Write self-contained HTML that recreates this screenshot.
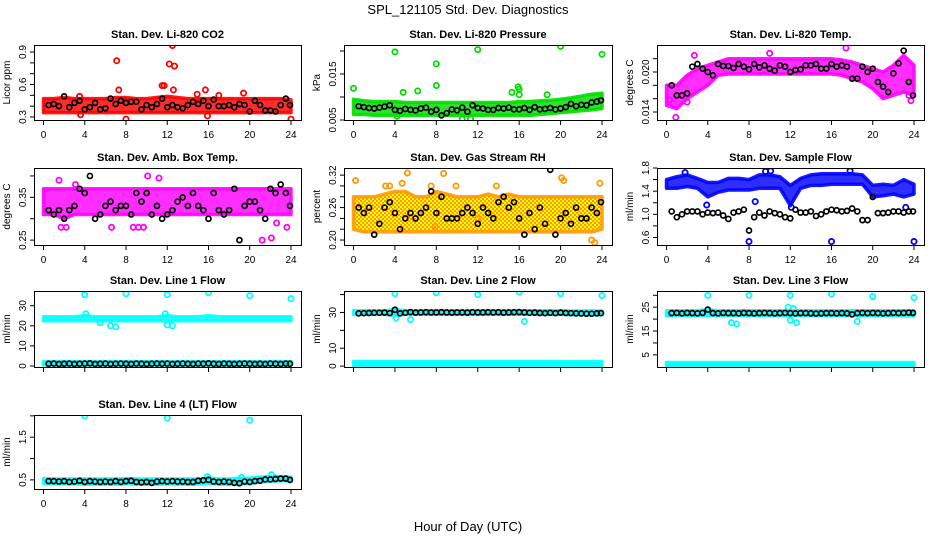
<!DOCTYPE html>
<html><head><meta charset="utf-8"><style>
body{margin:0;background:#fff}
svg{display:block;font-family:"Liberation Sans",sans-serif}
</style></head><body>
<svg id="c" width="936" height="540" xmlns="http://www.w3.org/2000/svg">
<defs>
<pattern id="rhpat" width="4" height="4" patternUnits="userSpaceOnUse"><rect width="4" height="4" fill="#ffff00"/><rect width="2" height="2" fill="#ff9900"/><rect x="2" y="2" width="2" height="2" fill="#ff9900"/></pattern>
</defs>
<text x="468" y="14" text-anchor="middle" font-size="13">SPL_121105  Std. Dev. Diagnostics</text>
<text x="468" y="531" text-anchor="middle" font-size="13">Hour of Day (UTC)</text>
</svg>
<script>
// ---- data ----
const hourTicks=[0,4,8,12,16,20,24];
const blackHours=[0.5,1,1.5,2,2.5,3,3.5,4,4.5,5,5.5,6,6.5,7,7.5,8,8.5,9,9.5,10,10.5,11,11.5,12,12.5,13,13.5,14,14.5,15,15.5,16,16.5,17,17.5,18,18.5,19,19.5,20,20.5,21,21.5,22,22.5,23,23.5,23.9];
const bandHours=[0,1,2,3,4,5,6,7,8,9,10,11,12,13,14,15,16,17,18,19,20,21,22,23,24];

const co2Lo=[.34,.34,.34,.34,.34,.34,.34,.34,.34,.34,.34,.34,.34,.34,.34,.34,.34,.34,.34,.34,.34,.34,.34,.34,.34];
const co2Hi=[.47,.47,.48,.47,.47,.47,.47,.48,.48,.47,.47,.48,.49,.48,.47,.47,.47,.47,.47,.47,.47,.47,.47,.47,.46];
const co2OutX=[7.1,7.3,3.5,11.5,11.7,12.2,12.5,12.7,12.6,15.7,14.9,17,19.4,8,24,15.9,3.6];
const co2OutY=[.82,.55,.49,.59,.59,.79,.96,.77,.55,.55,.51,.5,.52,.28,.28,.31,.32];
const co2Black=[.41,.42,.40,.49,.39,.43,.45,.37,.39,.43,.37,.38,.47,.42,.45,.43,.44,.44,.37,.41,.39,.42,.47,.39,.41,.39,.38,.41,.44,.42,.45,.40,.46,.40,.40,.41,.39,.42,.41,.35,.45,.41,.36,.36,.35,.41,.47,.41];

const presLo=[.0062,.0062,.006,.006,.006,.006,.006,.006,.006,.006,.006,.006,.006,.006,.006,.006,.006,.006,.0062,.0064,.0066,.0068,.007,.0072,.0075];
const presHi=[.0095,.0092,.009,.009,.009,.0088,.0088,.0088,.0088,.0088,.0088,.0088,.0088,.0088,.0088,.0088,.009,.009,.0092,.0093,.0095,.0098,.0102,.0106,.0108];
const presOutX=[4,8,8,12,20,24,0,6.2,4.8,15.9,16,16,15.3,18.7,4.2,10.5,11.3];
const presOutY=[.0198,.0172,.0125,.0203,.021,.0193,.0119,.0113,.011,.0122,.0117,.0105,.011,.0105,.0058,.0052,.0052];
const presBlack=[.008,.0078,.0076,.0075,.0077,.0079,.0082,.0072,.007,.0074,.0072,.0071,.0075,.0077,.0068,.0072,.006,.0065,.0073,.0071,.0077,.0068,.0082,.0076,.0075,.0072,.0072,.0076,.0075,.0077,.0073,.0073,.0076,.0072,.0078,.0073,.0074,.0076,.0073,.0075,.0078,.0085,.008,.0083,.0082,.0088,.009,.0093];

const tempLo=[.015,.0145,.016,.017,.018,.0195,.0197,.0197,.0197,.0197,.0197,.0197,.0197,.0197,.0197,.0197,.0197,.0195,.019,.0185,.0175,.016,.0165,.017,.0165];
const tempHi=[.018,.018,.0195,.0205,.021,.0215,.022,.022,.022,.022,.022,.022,.022,.022,.022,.022,.022,.0218,.0215,.021,.0205,.02,.021,.0225,.021];
const tempOutX=[0.9,2,0.3,17.4,23.5,23.7,10,2.7];
const tempOutY=[.0132,.0155,.0158,.0236,.0165,.0157,.0228,.0225];
const tempBlack=[.018,.0165,.0165,.0168,.0208,.0212,.0205,.02,.0195,.0212,.0209,.0209,.0206,.0212,.0208,.0204,.0212,.0207,.021,.0205,.0202,.021,.0208,.02,.0203,.0204,.021,.021,.0212,.0205,.0205,.0212,.0208,.021,.0208,.019,.019,.0208,.02,.0205,.0185,.0178,.017,.0198,.0213,.0232,.0185,.0165];

const ambLo=[.31,.31,.30,.31,.31,.31,.31,.31,.31,.31,.31,.31,.31,.31,.31,.31,.31,.31,.31,.31,.31,.31,.31,.31,.31];
const ambHi=[.37,.37,.37,.37,.37,.37,.37,.37,.37,.37,.37,.37,.37,.37,.37,.37,.37,.37,.37,.37,.37,.37,.37,.37,.37];
const ambOutX=[1.5,3.1,10.1,11.2,6.6,8.7,9.2,9.7,21.2,22.1,22.6,2.2,23.6,1.7];
const ambOutY=[.39,.38,.40,.395,.28,.28,.28,.28,.25,.255,.29,.28,.28,.28];
const ambBlack=[.32,.31,.32,.30,.32,.33,.37,.36,.40,.30,.31,.33,.34,.32,.33,.33,.31,.36,.34,.36,.31,.33,.30,.31,.32,.34,.35,.33,.36,.33,.32,.30,.36,.32,.31,.32,.37,.25,.33,.34,.34,.32,.30,.37,.36,.38,.36,.33];

const rhLo=[.22,.215,.215,.215,.215,.215,.215,.215,.215,.215,.215,.215,.215,.215,.215,.215,.215,.215,.215,.215,.215,.215,.215,.215,.22];
const rhHi=[.28,.28,.28,.285,.29,.29,.28,.28,.29,.285,.28,.28,.28,.285,.28,.285,.28,.28,.28,.28,.28,.28,.28,.28,.28];
const rhOutX=[0.2,3.5,5.2,8.7,20.1,20.3,23.8,12,3.1,4.7,7.5,13.8,23,23.3,9.9,7.9];
const rhOutY=[.31,.30,.324,.323,.315,.31,.305,.24,.30,.305,.30,.30,.20,.195,.30,.225];
const rhBlack=[.26,.25,.26,.21,.23,.26,.27,.25,.22,.24,.25,.24,.25,.26,.29,.25,.28,.24,.24,.24,.25,.26,.25,.23,.26,.25,.24,.27,.28,.26,.27,.24,.21,.25,.22,.26,.23,.33,.21,.24,.25,.23,.26,.24,.24,.26,.25,.27];

const flowLo=[1.45,1.45,1.48,1.45,1.3,1.38,1.42,1.42,1.42,1.45,1.45,1.45,1.15,1.45,1.5,1.5,1.52,1.52,1.52,1.52,1.3,1.32,1.35,1.3,1.35];
const flowHi=[1.6,1.65,1.68,1.62,1.55,1.55,1.62,1.62,1.6,1.68,1.68,1.65,1.5,1.62,1.68,1.7,1.7,1.7,1.7,1.68,1.5,1.52,1.5,1.6,1.52];
const flowOutX=[8,16,24,3.9,12.1,23.2,8.6,1.8,9.6,10.1,17.8];
const flowOutY=[.53,.53,.53,1.16,1.12,1.12,1.22,1.72,1.74,1.75,1.75];
const flowBlack=[1.05,.95,1.0,1.05,1.05,1.05,1.0,1.03,1.02,1.03,.98,.92,1.03,1.05,1.08,.72,.95,1.03,.98,1.05,1.02,1.0,.95,.93,1.08,1.03,1.03,1.05,.97,1.0,1.05,1.08,1.07,1.05,1.06,1.1,1.05,.9,.9,1.3,1.02,1.02,1.03,1.05,1.05,1.03,1.05,1.05];

const l1Lo=[22.5,22.5,22.5,22.5,22.5,22.5,22.5,22.5,22.5,22.5,22.5,22.5,22.5,22.5,22.5,22.5,22.5,22.5,22.5,22.5,22.5,22.5,22.5,22.5,22.5];
const l1Hi=[24.5,24.5,24.5,24.5,25,24.5,24.5,24.5,24.5,24.5,24.5,24.5,25,24.5,24.5,24.5,25,24.5,24.5,24.5,24.5,24.5,24.5,24.5,24.5];
const l1Lo2=[0.5,0.5,0.5,0.5,0.5,0.5,0.5,0.5,0.5,0.5,0.5,0.5,0.5,0.5,0.5,0.5,0.5,0.5,0.5,0.5,0.5,0.5,0.5,0.5,0.5];
const l1Hi2=[2.2,2.2,2.2,2.2,2.2,2.2,2.2,2.2,2.2,2.2,2.2,2.2,2.2,2.2,2.2,2.2,2.2,2.2,2.2,2.2,2.2,2.2,2.2,2.2,2.2];
const l1OutX=[4,8,12,16,20,24,5.5,6.5,7,12,12.5,4.1,11.8];
const l1OutY=[35.5,36,35.5,36.5,35,33.5,21.5,20,19.5,20.5,20,26,26];
const l1Black=[1.1,1.2,1.0,1.1,1.2,1.0,1.1,1.2,1.3,1.0,1.1,1.2,1.0,1.1,1.2,1.1,1.0,1.2,1.1,1.0,1.1,1.2,1.1,1.2,1.0,1.1,1.2,1.1,1.0,1.2,1.1,1.3,1.1,1.0,1.2,1.1,1.0,1.1,1.2,1.1,1.0,1.1,1.0,1.2,1.1,1.0,1.2,1.1];

const l2Lo=[29,29,29,29,28.5,29,29,29,29,29,29,29,29,29,29,29,29,29,29,29,29,28.8,28.8,28.8,28.8];
const l2Hi=[31,31,31,31,31.5,31,31,31,31,31,31,31,31,31,31,31,31,31,31,31,31,30.8,30.8,30.8,30.8];
const l2Lo2=[0.5,0.5,0.5,0.5,0.5,0.5,0.5,0.5,0.5,0.5,0.5,0.5,0.5,0.5,0.5,0.5,0.5,0.5,0.5,0.5,0.5,0.5,0.5,0.5,0.5];
const l2Hi2=[2.6,2.6,2.6,2.6,2.6,2.6,2.6,2.6,2.6,2.6,2.6,2.6,2.6,2.6,2.6,2.6,2.6,2.6,2.6,2.6,2.4,2.4,2.4,2.4,2.4];
const l2OutX=[4,8,12,16,20,24,5.5,16.5,4.1];
const l2OutY=[40.5,41,40,41.5,40.5,39.5,26,25,27];
const l2Black=[29.5,29.6,29.7,29.8,29.8,29.9,29.6,31.5,29.5,29.8,30.2,29.9,30.0,30.1,30.0,30.0,30.1,30.0,29.9,30.0,30.0,29.9,30.1,30.0,30.0,30.1,30.0,30.1,29.9,30.0,30.1,30.2,30.0,29.8,29.9,29.7,29.6,29.8,29.6,29.9,29.7,29.6,29.5,29.4,29.3,29.3,29.5,29.6];

const l3Lo=[21.5,21.5,21.5,21.5,21.5,21.5,21.5,21.5,21.5,21.5,21.5,21.5,21.5,21.5,21.5,21.5,21.5,21.5,21.5,21.5,21.5,21.5,21.5,21.5,21.5];
const l3Hi=[23.5,23.5,23.5,23.5,24,23.5,23.5,23.5,23.5,23.5,23.5,23.5,23.5,23.5,23.5,23.5,23.5,23.5,23.5,23.5,23.5,23.5,23.5,23.5,23.5];
const l3Lo2=[0.5,0.5,0.5,0.5,0.5,0.5,0.5,0.5,0.5,0.5,0.5,0.5,0.5,0.5,0.5,0.5,0.5,0.5,0.5,0.5,0.5,0.5,0.5,0.5,0.5];
const l3Hi2=[1.8,1.8,1.8,1.8,1.8,1.8,1.8,1.8,1.8,1.8,1.8,1.8,1.8,1.8,1.8,1.8,1.8,1.8,1.8,1.8,1.8,1.8,1.8,1.8,1.8];
const l3OutX=[4,8,12,16,20,24,6.3,6.8,12,12.6,18.5,11.8,12.3];
const l3OutY=[30,30,30,30.5,29.5,29,18.5,18,19.5,18.5,19,25,24.5];
const l3Black=[22.5,22.6,22.4,22.6,22.5,22.4,22.6,24,22.5,22.4,22.6,22.5,22.5,22.4,22.6,22.5,22.4,22.5,22.6,22.5,22.4,22.5,22.6,22.5,22.4,22.5,22.5,22.4,22.3,22.4,22.5,22.5,22.4,22.5,22.4,22.0,22.5,22.6,22.5,22.6,22.5,22.4,22.5,22.6,22.5,22.6,22.7,22.6];

const l4Lo=[.42,.41,.41,.41,.4,.4,.4,.4,.41,.4,.4,.4,.41,.4,.4,.4,.42,.4,.4,.4,.42,.45,.47,.48,.48];
const l4Hi=[.53,.52,.52,.52,.52,.52,.52,.52,.53,.52,.52,.52,.52,.52,.52,.52,.55,.52,.52,.54,.54,.56,.58,.58,.56];
const l4OutX=[4,12,20,15.9,22.1,19.2];
const l4OutY=[2.0,1.95,1.9,.58,.62,.56];
const l4Black=[.47,.47,.46,.47,.45,.46,.48,.45,.47,.46,.45,.46,.45,.47,.45,.47,.48,.45,.44,.45,.43,.46,.47,.46,.47,.46,.46,.45,.45,.48,.49,.5,.46,.45,.46,.45,.43,.42,.46,.45,.47,.48,.51,.51,.52,.53,.53,.5];

// ---- layout ----
const colL=[34,344,657], colR=[301,612,924], rowT=[45,168,291,415], rowB=[120,245,367,489];
const panels=[
 {name:'co2',title:'Stan. Dev. Li-820 CO2',ylab:'Licor ppm',r:0,c:0,ymin:.272,ymax:.965,ticks:[.3,.4,.5,.6,.7,.8,.9],labs:['0.3','','','0.6','','','0.9'],col:'#ff0000',bands:[[co2Lo,co2Hi]],ox:co2OutX,oy:co2OutY,bk:co2Black,xl:true},
 {name:'pressure',title:'Stan. Dev. Li-820 Pressure',ylab:'kPa',r:0,c:1,ymin:.005,ymax:.0213,ticks:[.005,.01,.015,.02],labs:['0.005','','0.015',''],col:'#00dd00',bands:[[presLo,presHi]],ox:presOutX,oy:presOutY,bk:presBlack,xl:true},
 {name:'temp',title:'Stan. Dev. Li-820 Temp.',ylab:'degrees C',r:0,c:2,ymin:.0128,ymax:.02405,ticks:[.014,.016,.018,.02,.022],labs:['0.014','','','0.020',''],col:'#ff00ff',bands:[[tempLo,tempHi]],ox:tempOutX,oy:tempOutY,bk:tempBlack,xl:true},
 {name:'amb-temp',title:'Stan. Dev. Amb. Box Temp.',ylab:'degrees C',r:1,c:0,ymin:.2386,ymax:.4186,ticks:[.25,.3,.35,.4],labs:['0.25','','0.35',''],col:'#ff00ff',bands:[[ambLo,ambHi]],ox:ambOutX,oy:ambOutY,bk:ambBlack,xl:true},
 {name:'rh',title:'Stan. Dev. Gas Stream RH',ylab:'percent',r:1,c:1,ymin:.1908,ymax:.3332,ticks:[.2,.22,.24,.26,.28,.3,.32],labs:['0.20','','','0.26','','','0.32'],col:'#ff9900',fill:'url(#rhpat)',bands:[[rhLo,rhHi]],ox:rhOutX,oy:rhOutY,bk:rhBlack,xl:true},
 {name:'sample-flow',title:'Stan. Dev. Sample Flow',ylab:'ml/min',r:1,c:2,ymin:.47,ymax:1.8,ticks:[.6,.8,1,1.2,1.4,1.6,1.8],labs:['0.6','','1.0','','1.4','','1.8'],col:'#0000ff',bands:[[flowLo,flowHi]],ox:flowOutX,oy:flowOutY,bk:flowBlack,xl:true},
 {name:'line1',title:'Stan. Dev. Line 1 Flow',ylab:'ml/min',r:2,c:0,ymin:-.5,ymax:37.3,ticks:[0,10,20,30],labs:['0','10','20','30'],col:'#00ffff',bands:[[l1Lo,l1Hi],[l1Lo2,l1Hi2]],ox:l1OutX,oy:l1OutY,bk:l1Black,xl:false},
 {name:'line2',title:'Stan. Dev. Line 2 Flow',ylab:'ml/min',r:2,c:1,ymin:-.5,ymax:42,ticks:[0,10,20,30,40],labs:['0','10','','30',''],col:'#00ffff',bands:[[l2Lo,l2Hi],[l2Lo2,l2Hi2]],ox:l2OutX,oy:l2OutY,bk:l2Black,xl:false},
 {name:'line3',title:'Stan. Dev. Line 3 Flow',ylab:'ml/min',r:2,c:2,ymin:-.1,ymax:31.8,ticks:[5,10,15,20,25,30],labs:['5','','15','','25',''],col:'#00ffff',bands:[[l3Lo,l3Hi],[l3Lo2,l3Hi2]],ox:l3OutX,oy:l3OutY,bk:l3Black,xl:false},
 {name:'line4',title:'Stan. Dev. Line 4 (LT) Flow',ylab:'ml/min',r:3,c:0,ymin:.286,ymax:2.02,ticks:[.5,1,1.5,2],labs:['0.5','','1.5',''],col:'#00ffff',bands:[[l4Lo,l4Hi]],ox:l4OutX,oy:l4OutY,bk:l4Black,xl:true}
];
const NS='http://www.w3.org/2000/svg', svg=document.getElementById('c');
function mk(t,a,p){const e=document.createElementNS(NS,t);for(const k in a)e.setAttribute(k,a[k]);(p||svg).appendChild(e);return e;}
panels.forEach(p=>{
 const L=colL[p.c],R=colR[p.c],T=rowT[p.r],B=rowB[p.r];
 const x0=L+9.5,x1=R-10;
 const xs=h=>x0+(x1-x0)*h/24, ys=v=>B-(B-T)*(v-p.ymin)/(p.ymax-p.ymin);
 const g=mk('g',{});
 
 
 const cl=mk('clipPath',{id:'cl-'+p.name},g);mk('rect',{x:L,y:T,width:R-L,height:B-T},cl);
 const pg=mk('g',{'clip-path':'url(#cl-'+p.name+')'},g);
 p.bands.forEach((b,bi)=>{
  let d='';bandHours.forEach((h,i)=>{d+=(i?'L':'M')+xs(h).toFixed(1)+','+ys(b[1][i]).toFixed(1);});
  for(let i=bandHours.length-1;i>=0;i--)d+='L'+xs(bandHours[i]).toFixed(1)+','+ys(b[0][i]).toFixed(1);
  const e=mk('path',{d:d+'Z',fill:p.fill||p.col,'fill-opacity':p.fill?1:0.82,stroke:p.col,'stroke-opacity':0.9,'stroke-width':3.5,'stroke-linejoin':'round'},pg);
  
  
 });
 p.ox.forEach((h,i)=>{
  const e=mk('circle',{cx:xs(h),cy:ys(p.oy[i]),r:2.6,fill:'none',stroke:p.col,'stroke-width':1.8},pg);
  
  
 });
 const n=Math.min(p.bk.length,blackHours.length);
 for(let i=0;i<n;i++){
  const e=mk('circle',{cx:xs(blackHours[i]),cy:ys(p.bk[i]),r:2.5,fill:'none',stroke:'#000','stroke-width':1.7},pg);
  
  
 }
 const box=mk('rect',{x:L+.5,y:T+.5,width:R-L,height:B-T,fill:'none',stroke:'#000','stroke-width':1},g);
 
 
 const tt=mk('text',{x:(L+R)/2,y:T-7,'text-anchor':'middle','font-size':11,'font-weight':'bold'},g);tt.textContent=p.title;
 
 
 const yl=mk('text',{transform:`translate(${L-24},${(T+B)/2}) rotate(-90)`,'text-anchor':'middle','font-size':10},g);yl.textContent=p.ylab;
 
 
 mk('line',{x1:L+.5,x2:L+.5,y1:ys(p.ticks[0]),y2:ys(p.ticks[p.ticks.length-1]),stroke:'#000'},g);
 p.ticks.forEach((v,i)=>{
  const y=ys(v);mk('line',{x1:L-4,x2:L+.5,y1:y,y2:y,stroke:'#000'},g);
  if(p.labs[i]){const t=mk('text',{transform:`translate(${L-8},${y}) rotate(-90)`,'text-anchor':'middle','font-size':10},g);t.textContent=p.labs[i];
   
   }
 });
 mk('line',{x1:xs(0),x2:xs(24),y1:B+.5,y2:B+.5,stroke:'#000'},g);
 hourTicks.forEach(h=>{
  const x=xs(h);mk('line',{x1:x,x2:x,y1:B+.5,y2:B+5,stroke:'#000'},g);
  if(p.xl){const t=mk('text',{x:x,y:B+18,'text-anchor':'middle','font-size':10},g);t.textContent=h;
   
   }
 });
});
</script>
</body></html>
